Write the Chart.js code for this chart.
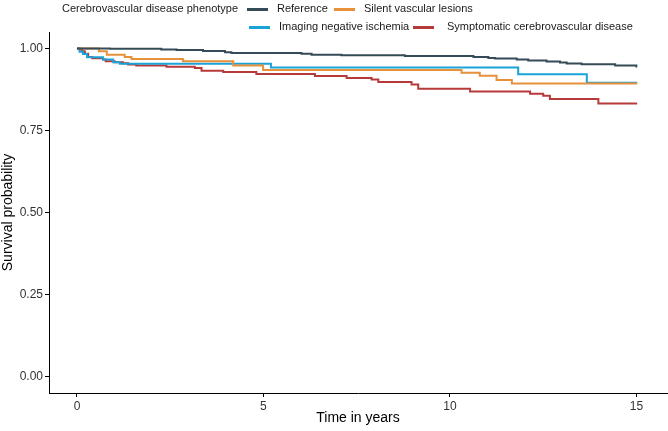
<!DOCTYPE html>
<html>
<head>
<meta charset="utf-8">
<script src="https://cdn.jsdelivr.net/npm/chart.js@4.4.1/dist/chart.umd.min.js"></script>
<style>
  html, body { margin: 0; padding: 0; background: #fff; }
  #wrap { position: relative; width: 668px; height: 431px; font-family: "Liberation Sans", Arial, sans-serif; }
  canvas { position: absolute; left: 0; top: 0; }
  .lg { position: absolute; font-size: 11px; color: #1a1a1a; line-height: 13px; white-space: nowrap; }
  .key { position: absolute; height: 3px; width: 21px; }
</style>
</head>
<body>
<div id="wrap">
  <canvas id="chart" width="668" height="431"></canvas>
  <div id="legend"></div>
</div>
<script>
// Kaplan-Meier step data (time in years, survival probability)
const refTime   = [0, 0.88, 2.26, 2.67, 3.38, 3.97, 4.14, 6.02, 6.29, 7.09, 8.79, 10.63, 11.03, 11.21, 11.79, 12.10, 12.59, 12.95, 13.13, 13.53, 14.43, 15.00, 15.02];
const refSurv   = [1.000, 0.999, 0.997, 0.995, 0.992, 0.988, 0.986, 0.984, 0.981, 0.979, 0.977, 0.9735, 0.971, 0.969, 0.966, 0.963, 0.960, 0.957, 0.954, 0.952, 0.948, 0.945, 0.945];

const silentTime = [0, 0.59, 0.80, 1.28, 1.46, 2.84, 4.19, 4.99, 10.31, 10.80, 11.25, 11.66, 15.02];
const silentSurv = [1.000, 0.991, 0.981, 0.974, 0.968, 0.961, 0.948, 0.934, 0.926, 0.917, 0.904, 0.893, 0.893];

const imagingTime = [0, 0.07, 0.16, 0.27, 0.70, 0.97, 1.15, 5.20, 11.83, 13.67, 15.02];
const imagingSurv = [1.000, 0.990, 0.983, 0.973, 0.966, 0.958, 0.953, 0.942, 0.921, 0.895, 0.895];

const sympTime = [0, 0.07, 0.14, 0.21, 0.30, 0.41, 0.70, 0.77, 1.01, 1.23, 1.37, 1.59, 2.40, 3.16, 3.34, 3.92, 4.81, 6.38, 7.23, 7.90, 8.08, 8.97, 9.15, 10.54, 12.15, 12.50, 12.68, 13.98, 15.02];
const sympSurv = [1.000, 0.997, 0.991, 0.984, 0.9735, 0.970, 0.9665, 0.961, 0.958, 0.955, 0.951, 0.948, 0.944, 0.940, 0.932, 0.928, 0.922, 0.9157, 0.910, 0.9055, 0.898, 0.890, 0.877, 0.869, 0.862, 0.856, 0.846, 0.8325, 0.8325];

const groupNames = ["Reference", "Silent vascular lesions", "Imaging negative ischemia", "Symptomatic cerebrovascular disease"];
const groupColors = ["#354B57", "#E8903A", "#1AA3D8", "#B73A3B"];
const legendTitle = "Cerebrovascular disease phenotype";

const xTicks = [0, 5, 10, 15];
const yTicks = [0, 0.25, 0.5, 0.75, 1];

const series = [[refTime, refSurv], [silentTime, silentSurv], [imagingTime, imagingSurv], [sympTime, sympSurv]];

// legend (ggplot style, two rows)
const legendEl = document.getElementById("legend");
const legendLayout = [
  { key: 247, text: 277, y: 9 },
  { key: 334, text: 364, y: 9 },
  { key: 249, text: 279, y: 27 },
  { key: 413, text: 447, y: 27 }
];
function addLegend() {
  const t = document.createElement("div");
  t.className = "lg"; t.textContent = legendTitle;
  t.style.left = "62px"; t.style.top = (9 - 7) + "px";
  legendEl.appendChild(t);
  groupNames.forEach((n, i) => {
    const L = legendLayout[i];
    const k = document.createElement("div");
    k.className = "key"; k.style.background = groupColors[i];
    k.style.left = L.key + "px"; k.style.top = (L.y - 1) + "px";
    legendEl.appendChild(k);
    const s = document.createElement("div");
    s.className = "lg"; s.textContent = n;
    s.style.left = L.text + "px"; s.style.top = (L.y - 7) + "px";
    legendEl.appendChild(s);
  });
}
addLegend();

const font = "'Liberation Sans', Arial, sans-serif";

new Chart(document.getElementById("chart"), {
  type: "line",
  data: {
    datasets: series.map((s, i) => ({
      label: groupNames[i],
      data: s[0].map((t, j) => ({ x: t, y: s[1][j] })),
      borderColor: groupColors[i],
      borderWidth: 2,
      pointRadius: 0,
      stepped: true,
      fill: false
    }))
  },
  options: {
    responsive: false,
    animation: false,
    layout: { padding: { top: 32, right: 1, left: 0, bottom: 0 } },
    plugins: { legend: { display: false }, tooltip: { enabled: false } },
    scales: {
      x: {
        type: "linear",
        min: -0.75, max: 15.82,
        afterBuildTicks: s => { s.ticks = xTicks.map(v => ({ value: v })); },
        afterFit: s => { s.height = 38; },
        border: { display: true, color: "#000", width: 1 },
        grid: { display: true, drawOnChartArea: false, drawTicks: true, tickLength: 4, color: "#000" },
        ticks: { color: "#333", font: { family: font, size: 12 }, padding: 2, maxRotation: 0,
                 callback: v => String(v) },
        title: { display: true, text: "Time in years", color: "#000", font: { family: font, size: 14 }, padding: { top: 0, bottom: 4 } }
      },
      y: {
        min: -0.05, max: 1.05,
        afterBuildTicks: s => { s.ticks = yTicks.map(v => ({ value: v })); },
        afterFit: s => { s.width = 49; },
        border: { display: true, color: "#000", width: 1 },
        grid: { display: true, drawOnChartArea: false, drawTicks: true, tickLength: 4, color: "#000" },
        ticks: { color: "#333", font: { family: font, size: 12 }, padding: 2,
                 callback: v => Number(v).toFixed(2) },
        title: { display: true, text: "Survival probability", color: "#000", font: { family: font, size: 14 }, padding: { top: 0, bottom: 0 } }
      }
    }
  }
});
</script>
</body>
</html>
